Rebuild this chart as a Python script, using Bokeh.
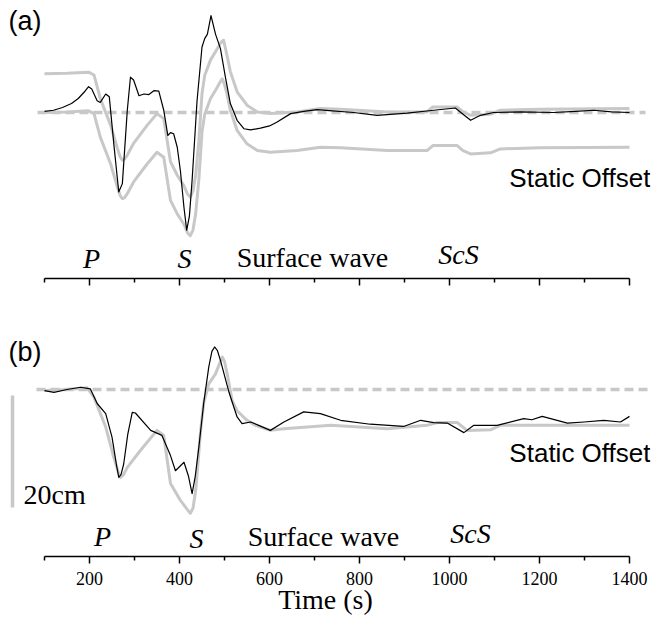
from bokeh.plotting import figure
from bokeh.layouts import column
from bokeh.models import Range1d, FixedTicker
from bokeh.core.properties import value
from bokeh.embed import file_html
from bokeh.resources import INLINE

# ---------------- data (time in s, displacement in cm) ----------------
# Panel (a)
a_black_t = [100, 120, 140, 160, 175, 190, 198, 205, 217, 224, 236, 244, 254, 265, 273, 284, 291, 298,
             310, 321, 332, 343, 354, 365, 374, 380, 387, 395, 402, 410, 416, 422, 428, 439, 450, 456,
             462, 470, 480, 491, 502, 513, 528, 543, 558, 580, 600, 617, 647, 676, 706, 740,
             787, 839, 906, 965, 1013, 1030, 1047, 1069, 1098, 1160, 1231, 1280, 1321, 1360, 1400]
a_black_d = [0.2, 0.4, 0.9, 1.6, 2.5, 3.8, 4.6, 4.2, 2.1, 1.8, 3.3, 2.8, -5.6, -14.2, -12.7, 0.4, 6.3, 5.8,
             3.0, 3.3, 3.2, 3.9, 3.8, 0.4, -4.1, -3.6, -3.8, -6.2, -10.4, -17.0, -21.0, -18.5, -12.1, 2.1, 11.7, 13.2,
             14.0, 17.3, 14.0, 11.4, 6.3, 1.6, -1.4, -2.9, -3.1, -2.8, -2.4, -1.7, -0.2, 0.2, 0.5, 0.3,
             0.0, -0.5, -0.1, 0.4, 0.8, -0.3, -1.4, -0.5, 0.0, 0.1, 0.0, 0.2, 0.4, 0.1, 0.0]

a_gray1_t = [100, 150, 198, 210, 224, 247, 262, 268, 273, 278, 284, 298, 328, 350, 365, 380, 395, 410, 418, 424,
             430, 436, 443, 450, 456, 469, 484, 492, 498, 505, 513, 528, 550, 573, 602, 661, 713, 758, 862,
             950, 963, 1017, 1030, 1047, 1091, 1113, 1200, 1400]
a_gray1_d = [6.9, 7.0, 7.2, 6.7, 2.5, -2.3, -6.4, -7.9, -8.5, -8.3, -7.6, -5.5, -2.3, -0.2, -1.1, -8.8, -11.2,
             -13.1, -14.6, -15.1, -14.0, -11.1, -5.1, 3.4, 6.6, 9.4, 11.4, 12.5, 12.9, 10.4, 7.3, 3.7, 1.3, 0.1, -0.2,
             0.1, 0.7, 0.6, 0.1, 0.1, 1.0, 1.0, 0.1, -0.5, -0.3, 0.4, 0.6, 0.7]

a_gray2_t = [100, 150, 198, 210, 224, 247, 262, 268, 273, 278, 284, 298, 328, 350, 365, 380, 395, 410, 418, 424,
             430, 436, 443, 450, 456, 469, 484, 490, 495, 500, 505, 513, 528, 550, 573, 602, 661, 713, 758, 862,
             950, 963, 1017, 1030, 1047, 1091, 1113, 1200, 1400]
a_gray2_d = [0.0, 0.1, 0.3, -0.2, -4.4, -9.2, -13.3, -14.8, -15.4, -15.2, -14.5, -12.4, -9.2, -7.1, -8.0, -15.7,
             -18.1, -20.0, -21.5, -22.0, -21.0, -18.0, -12.0, -3.5, -0.3, 2.5, 4.5, 5.4, 6.0, 5.0, 3.5, 0.4, -3.2, -5.6,
             -6.8, -7.1, -6.8, -6.2, -6.3, -6.8, -6.8, -5.9, -5.9, -6.8, -7.4, -7.2, -6.5, -6.3, -6.2]

# Panel (b)
b_black_t = [100, 121, 150, 180, 202, 217, 236, 250, 260, 265, 270, 276, 285, 295, 302, 336, 361, 380, 391, 410,
             420, 428, 435, 443, 454, 465, 472, 478, 484, 491, 510, 528, 539, 558, 576, 602, 632, 676, 713, 758, 824,
             898, 936, 965, 995, 1032, 1054, 1106, 1165, 1183, 1206, 1262, 1299, 1343, 1380, 1400]
b_black_d = [-0.2, -0.5, 0.0, 0.4, 0.1, -2.5, -4.3, -8.5, -13.5, -15.7, -15.2, -13.3, -8.0, -4.1, -4.2, -7.3, -8.2,
             -11.8, -14.5, -13.0, -15.5, -18.6, -15.5, -10.3, -2.3, 4.0, 6.8, 7.6, 7.0, 5.2, -0.5, -4.9, -6.1, -5.8, -6.4,
             -7.3, -5.8, -4.0, -4.3, -5.5, -6.2, -6.6, -5.5, -5.9, -6.0, -7.7, -6.4, -6.4, -5.2,
             -5.4, -4.8, -6.0, -5.8, -5.5, -5.8, -4.8]

b_gray_t = [100, 150, 195, 210, 236, 254, 264, 269, 275, 284, 313, 350, 365, 380, 402, 418, 424, 430, 436, 447, 454,
            465, 480, 490, 495, 500, 506, 517, 528, 550, 569, 602, 632, 736, 862, 950, 973, 1017, 1039,
            1091, 1113, 1400]
b_gray_d = [-0.2, 0.0, 0.3, -1.4, -6.7, -12.1, -14.8, -15.7, -15.3, -13.9, -10.9, -7.3, -8.2, -16.8, -19.8,
            -21.5, -22.1, -21.2, -18.0, -7.3, -2.3, 1.0, 2.8, 4.8, 5.8, 5.0, 2.8, -2.0, -3.8, -5.5, -6.4, -7.3, -7.0,
            -6.4, -7.0, -6.4, -5.9, -5.9, -7.3, -7.2, -6.4, -6.4]

phase_labels = ["P", "S", "Surface wave", "ScS"]
phase_italic = [True, True, False, True]
major_ticks = [200, 400, 600, 800, 1000, 1200, 1400]
minor_ticks = [100, 300, 500, 700, 900, 1100, 1300]
scale_bar_cm = 20

# ---------------- style ----------------
GRAY = "#c8c8c8"
SERIF = "Liberation Serif"
SANS = "Liberation Sans"
W = 652

# page-pixel helper (layout only): page x -> time
def tx(px):
    return 100 + (px - 44) / 0.45

def make_fig(height, y0_px, top_px, bottom_border):
    frame_h = height - bottom_border
    y_top = (y0_px - top_px) / 5.6
    y_bot = (y0_px - (top_px + frame_h)) / 5.6
    p = figure(width=W, height=height, output_backend="svg", toolbar_location=None,
               x_range=Range1d(tx(0), tx(650)), y_range=Range1d(y_bot, y_top),
               y_axis_location=None, min_border_left=0, min_border_right=2,
               min_border_top=0, min_border_bottom=bottom_border)
    p.grid.visible = False
    p.outline_line_color = None
    p.background_fill_color = "white"
    p.border_fill_color = "white"
    ax = p.xaxis[0]
    ax.ticker = FixedTicker(ticks=major_ticks, minor_ticks=minor_ticks)
    ax.bounds = (100, 1400)
    ax.axis_line_width = 1.5
    ax.major_tick_line_width = 1.5
    ax.minor_tick_line_width = 1.5
    ax.major_tick_out = 7
    ax.major_tick_in = 0
    ax.minor_tick_out = 4
    ax.minor_tick_in = 0
    return p

# ---------------- panel (a) ----------------
pa = make_fig(300, 112, 0, 22)
pa.xaxis[0].major_label_text_font_size = "0px"
pa.xaxis[0].major_label_overrides = {t: "" for t in major_ticks}
pa.line([tx(37), tx(645)], [0, 0], line_color=GRAY, line_width=3.5, line_dash="9 5")
pa.line(a_gray1_t, a_gray1_d, line_color=GRAY, line_width=3, line_join="round")
pa.line(a_gray2_t, a_gray2_d, line_color=GRAY, line_width=3, line_join="round")
pa.line(a_black_t, a_black_d, line_color="black", line_width=1.2, line_join="round")

pa.text(x=[tx(8)], y=[(112 - 20) / 5.6], text=["(a)"], text_font=value(SANS),
        text_font_size="27px", text_align="left", text_baseline="middle", text_color="black")
pa.text(x=[tx(650)], y=[(112 - 177) / 5.6], text=["Static Offset"], text_font=value(SANS),
        text_font_size="26px", text_align="right", text_baseline="middle", text_color="black")

a_lab_x = [tx(91), tx(184), tx(312), tx(458)]
a_lab_y = [(112 - 258) / 5.6, (112 - 258) / 5.6, (112 - 257) / 5.6, (112 - 254) / 5.6]
for xx, yy, s, it in zip(a_lab_x, a_lab_y, phase_labels, phase_italic):
    pa.text(x=[xx], y=[yy], text=[s], text_font=value(SERIF), text_font_size="28px",
            text_font_style="italic" if it else "normal", text_align="center",
            text_baseline="alphabetic", text_color="black")

# ---------------- panel (b) ----------------
pb = make_fig(320, 389, 300, 64)
axb = pb.xaxis[0]
axb.major_label_text_font = SERIF
axb.major_label_text_font_size = "18px"
axb.major_label_text_color = "black"
axb.major_label_standoff = 8
axb.axis_label = "Time (s)"
axb.axis_label_text_font = SERIF
axb.axis_label_text_font_size = "28px"
axb.axis_label_text_font_style = "normal"
axb.axis_label_text_color = "black"
axb.axis_label_standoff = -4

pb.line([tx(36), tx(650)], [0, 0], line_color=GRAY, line_width=3.5, line_dash="9 5")
pb.line([tx(12), tx(12)], [-1.07, -1.07 - scale_bar_cm], line_color=GRAY, line_width=3.5)
pb.line(b_gray_t, b_gray_d, line_color=GRAY, line_width=3, line_join="round")
pb.line(b_black_t, b_black_d, line_color="black", line_width=1.2, line_join="round")

pb.text(x=[tx(8)], y=[(389 - 351) / 5.6], text=["(b)"], text_font=value(SANS),
        text_font_size="27px", text_align="left", text_baseline="middle", text_color="black")
pb.text(x=[tx(650)], y=[(389 - 452) / 5.6], text=["Static Offset"], text_font=value(SANS),
        text_font_size="26px", text_align="right", text_baseline="middle", text_color="black")
pb.text(x=[tx(23)], y=[(389 - 494) / 5.6], text=[f"{scale_bar_cm}cm"], text_font=value(SERIF),
        text_font_size="28px", text_align="left", text_baseline="alphabetic", text_color="black")

b_lab_x = [tx(102), tx(196), tx(323), tx(470)]
b_lab_y = [(389 - 536) / 5.6, (389 - 538) / 5.6, (389 - 536) / 5.6, (389 - 533) / 5.6]
for xx, yy, s, it in zip(b_lab_x, b_lab_y, phase_labels, phase_italic):
    pb.text(x=[xx], y=[yy], text=[s], text_font=value(SERIF), text_font_size="28px",
            text_font_style="italic" if it else "normal", text_align="center",
            text_baseline="alphabetic", text_color="black")

layout = column(pa, pb, spacing=0)
open("out.html", "w").write(file_html(layout, INLINE))
